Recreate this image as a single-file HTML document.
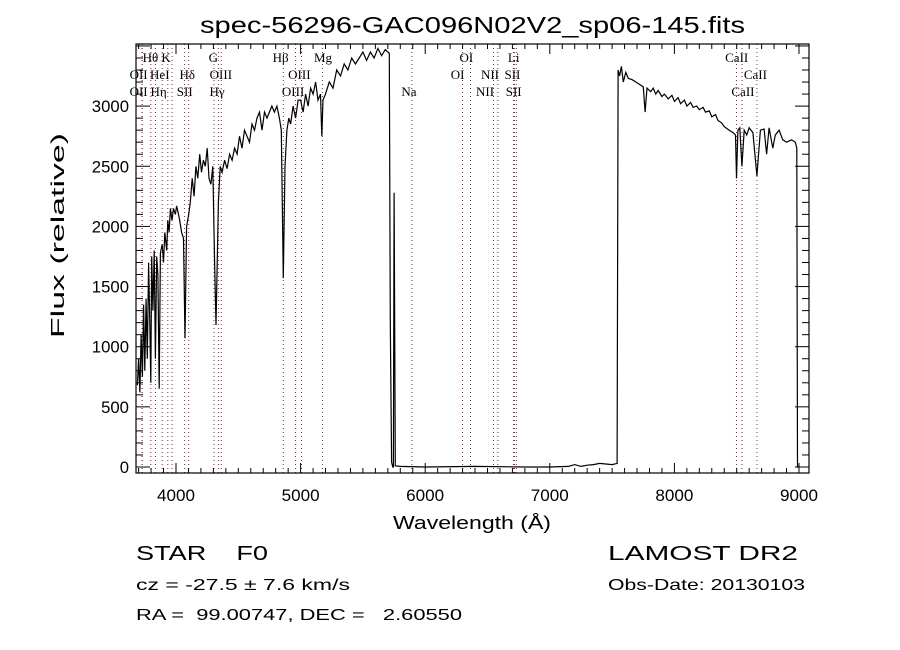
<!DOCTYPE html>
<html><head><meta charset="utf-8"><style>
html,body{margin:0;padding:0;background:#fff;}
svg{display:block;}
.t{font-family:"Liberation Sans",sans-serif;fill:#000;white-space:pre;}
.s{font-family:"Liberation Serif",serif;fill:#000;font-size:13px;}
</style></head><body>
<svg id="chart" width="900" height="650" viewBox="0 0 900 650"></svg>
<script>
// Spectrum data (wavelength Å, relative flux)
const wavelengths = [3690,3700,3710,3720,3730,3740,3750,3760,3770,3780,3790,3798,3805,3815,3825,3835,3845,3855,3865,3875,3889,3900,3910,3925,3934,3945,3955,3968,3980,3995,4005,4016,4030,4045,4060,4072,4085,4102,4115,4130,4145,4160,4175,4190,4205,4220,4235,4250,4265,4280,4295,4310,4321,4340,4355,4370,4390,4410,4430,4450,4470,4490,4510,4530,4550,4570,4590,4610,4630,4650,4670,4690,4710,4730,4750,4770,4790,4810,4830,4845,4861,4875,4890,4905,4920,4940,4960,4980,5000,5020,5040,5060,5080,5100,5120,5140,5160,5170,5180,5200,5230,5260,5290,5320,5350,5380,5410,5440,5470,5500,5530,5560,5590,5620,5650,5680,5700,5712,5720,5730,5740,5745,5750,5760,5800,6000,6400,6800,7000,7150,7200,7250,7300,7350,7400,7450,7500,7540,7548,7560,7575,7590,7610,7630,7660,7690,7720,7750,7765,7780,7810,7830,7850,7870,7900,7920,7950,7980,8000,8030,8050,8080,8100,8130,8150,8180,8200,8230,8250,8280,8300,8330,8350,8380,8400,8440,8470,8490,8498,8510,8525,8542,8560,8580,8600,8630,8662,8690,8720,8740,8760,8790,8810,8840,8870,8900,8940,8970,8982,8988,9000];
const fluxes = [680,900,620,1100,750,1350,800,1400,900,1700,1200,700,1750,1300,1800,900,1750,1600,650,1780,1850,1700,1950,1800,2050,1950,2150,2050,2150,2100,2170,2120,2050,1950,1900,1070,2000,2100,2200,2400,2250,2500,2400,2600,2450,2550,2500,2650,2400,2350,2500,1700,1180,2200,2500,2450,2550,2480,2600,2550,2650,2600,2750,2650,2800,2750,2700,2850,2800,2900,2950,2800,2950,2900,2950,3000,2950,3000,2900,2800,1570,2500,2800,2900,2850,3000,2900,3050,3050,2950,3100,3000,3150,3100,3200,3050,3100,2750,3050,3100,3200,3150,3300,3250,3350,3300,3400,3350,3400,3450,3380,3450,3400,3480,3420,3470,3450,3440,1200,40,0,0,2280,10,5,0,5,0,0,5,20,5,15,20,30,25,20,30,3300,3250,3330,3200,3280,3230,3220,3200,3180,3160,2950,3150,3120,3150,3100,3130,3080,3100,3060,3090,3040,3070,3020,3050,3000,3030,2990,3000,2970,2990,2950,2960,2910,2930,2880,2860,2830,2800,2780,2760,2400,2800,2820,2500,2800,2760,2820,2780,2420,2800,2810,2600,2820,2650,2760,2800,2720,2700,2720,2700,2650,0,0];
// Emission/absorption line markers
const lineWaves = [3727,3729,3798,3835,3889,3934,3968,4069,4102,4305,4340,4363,4861,4959,5007,5175,5893,6300,6364,6548,6583,6708,6716,6731,8498,8542,8662];
const labelNames = ["Hθ","K","G","Hβ","Mg","OI","Li","CaII","OII","HeI","Hδ","OIII","OIII","OI","NII","SII","CaII","OII","Hη","SII","Hγ","OIII","Na","NII","SII","CaII"];
const labelWaves = [3795,3920,4300,4840,5180,6330,6710,8500,3700,3870,4090,4360,4990,6260,6520,6700,8650,3700,3860,4070,4330,4940,5870,6480,6710,8550];
const labelRows  = [0,0,0,0,0,0,0,0,1,1,1,1,1,1,1,1,1,2,2,2,2,2,2,2,2,2];
const xTicks = [4000,5000,6000,7000,8000,9000];
const yTicks = [0,500,1000,1500,2000,2500,3000];

const L=136,R=809,T=44,B=473;
const x = w => 176 + (w-4000)*0.1246;
const y = f => 467 - f*0.1203;
const svg = document.getElementById('chart');
const NS='http://www.w3.org/2000/svg';
function mk(tag, attrs, parent){const e=document.createElementNS(NS,tag);for(const k in attrs)e.setAttribute(k,attrs[k]);(parent||svg).appendChild(e);return e;}

// line markers
const gm = mk('g',{});


lineWaves.forEach(w=>{const l=mk('line',{x1:x(w),x2:x(w),y1:T,y2:B,stroke:'#8b2a2a','stroke-width':1,'stroke-dasharray':'1,3'},gm);

});
labelNames.forEach((n,i)=>{const t=mk('text',{x:x(labelWaves[i]),y:62+labelRows[i]*17,'text-anchor':'middle',class:'s'},gm);t.textContent=n;

});

// spectrum
let d='';wavelengths.forEach((w,i)=>{d+=(i?'L':'M')+x(w).toFixed(1)+','+y(fluxes[i]).toFixed(1);});
const p=mk('path',{d:d,fill:'none',stroke:'#000','stroke-width':1.2});



// frame
const fr=mk('rect',{x:L,y:T,width:R-L,height:B-T,fill:'none',stroke:'#000','stroke-width':1.2});


// ticks
const gt=mk('g',{stroke:'#000','stroke-width':1});


for(let w=3700;w<=9080;w+=100){const len=(w%1000===0)?10:5;mk('line',{x1:x(w),x2:x(w),y1:B,y2:B-len},gt);mk('line',{x1:x(w),x2:x(w),y1:T,y2:T+len},gt);}
for(let f=0;f<=3500;f+=100){const len=(f%500===0)?14:7;mk('line',{x1:L,x2:L+len,y1:y(f),y2:y(f)},gt);mk('line',{x1:R,x2:R-len,y1:y(f),y2:y(f)},gt);}
xTicks.forEach(w=>{const t=mk('text',{x:x(w),y:501,'text-anchor':'middle',class:'t','font-size':17,textLength:38,lengthAdjust:'spacingAndGlyphs'});t.textContent=w;

});
yTicks.forEach(f=>{const s=String(f);const t=mk('text',{x:129,y:y(f)+6,'text-anchor':'end',class:'t','font-size':17,textLength:s.length*9.3,lengthAdjust:'spacingAndGlyphs'});t.textContent=s;

});

function txt(s,a,name){const t=mk('text',a);t.textContent=s;return t;}
txt('spec-56296-GAC096N02V2_sp06-145.fits',{x:200,y:33,class:'t','font-size':23,textLength:545,lengthAdjust:'spacingAndGlyphs'},'chart-title');
txt('Wavelength (Å)',{x:393,y:529,class:'t','font-size':18,textLength:158,lengthAdjust:'spacingAndGlyphs'},'x-axis-title');
txt('Flux (relative)',{x:0,y:0,transform:'translate(64,338) rotate(-90)',class:'t','font-size':18,textLength:205,lengthAdjust:'spacingAndGlyphs'},'y-axis-title');
txt('STAR    F0',{x:136,y:560,class:'t','font-size':20,textLength:132,lengthAdjust:'spacingAndGlyphs'},'object-class');
txt('cz = -27.5 ± 7.6 km/s',{x:136,y:590,class:'t','font-size':16,textLength:214,lengthAdjust:'spacingAndGlyphs'},'redshift-info');
txt('RA =  99.00747, DEC =   2.60550',{x:136,y:620,class:'t','font-size':16,textLength:326,lengthAdjust:'spacingAndGlyphs'},'coordinates');
txt('LAMOST DR2',{x:608,y:560,class:'t','font-size':20,textLength:190,lengthAdjust:'spacingAndGlyphs'},'survey-name');
txt('Obs-Date: 20130103',{x:608,y:590,class:'t','font-size':16,textLength:197,lengthAdjust:'spacingAndGlyphs'},'obs-date');
</script>
</body></html>
